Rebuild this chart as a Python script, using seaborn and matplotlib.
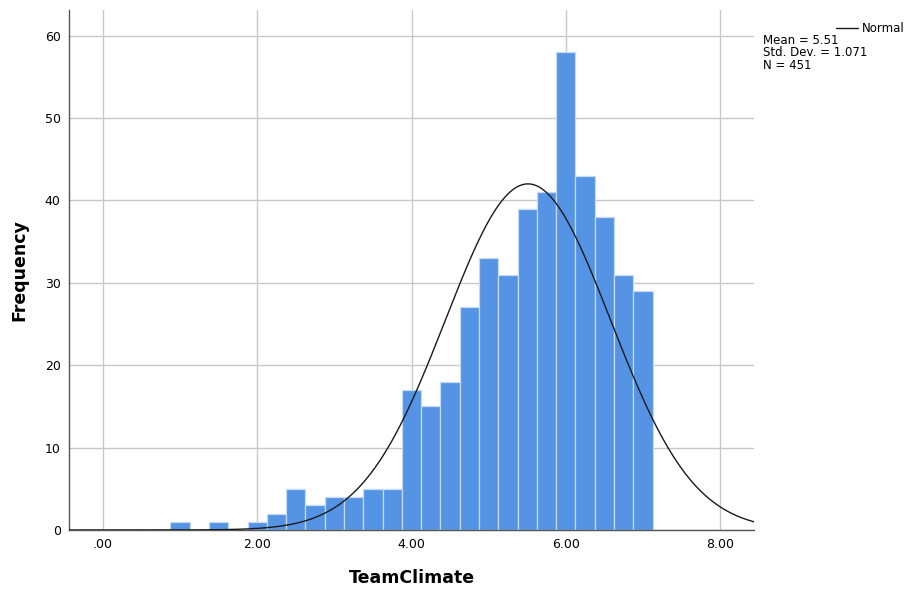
import numpy as np
import pandas as pd
import matplotlib
matplotlib.use("Agg")
import matplotlib.pyplot as plt
import seaborn as sns
from matplotlib.ticker import FuncFormatter

# bin centres (width .25) and frequencies
bin_centers = [1.00, 1.25, 1.50, 1.75, 2.00, 2.25, 2.50, 2.75, 3.00, 3.25, 3.50, 3.75,
               4.00, 4.25, 4.50, 4.75, 5.00, 5.25, 5.50, 5.75, 6.00, 6.25, 6.50, 6.75, 7.00]
frequencies = [1, 0, 1, 0, 1, 2, 5, 3, 4, 4, 5, 5,
               17, 15, 18, 27, 33, 31, 39, 41, 58, 43, 38, 31, 29]
bin_width = 0.25

# summary statistics shown in the legend
mean_val = 5.51
std_val = 1.071
n_val = 451

x_ticks = [0, 2, 4, 6, 8]
y_ticks = [0, 10, 20, 30, 40, 50, 60]

sns.set_style("white")
plt.rcParams["font.family"] = ["DejaVu Sans"]
plt.rcParams["text.color"] = "black"

df = pd.DataFrame({"TeamClimate": bin_centers, "count": frequencies})

fig = plt.figure(figsize=(9.08, 5.9), dpi=100)
ax = fig.add_axes([69 / 908, 1 - 530 / 590, (754 - 69) / 908, (530 - 10) / 590])

ax.set_axisbelow(True)
ax.grid(True, color="#c8c8c8", linewidth=1)

sns.histplot(data=df, x="TeamClimate", weights="count", binwidth=bin_width,
             binrange=(bin_centers[0] - bin_width / 2, bin_centers[-1] + bin_width / 2), ax=ax,
             color="#5594e4", alpha=1, edgecolor="#c6daf4", linewidth=0.9)

xmin, xmax = -0.44, 8.44
xs = np.linspace(xmin, xmax, 400)
curve = n_val * bin_width * np.exp(-0.5 * ((xs - mean_val) / std_val) ** 2) / (std_val * np.sqrt(2 * np.pi))
sns.lineplot(x=xs, y=curve, ax=ax, color="#1a1a1a", linewidth=1, zorder=5)

ax.set_xlim(xmin, xmax)
ax.set_ylim(0, 63.1)
ax.set_xticks(x_ticks)
ax.set_yticks(y_ticks)
ax.xaxis.set_major_formatter(FuncFormatter(lambda v, p: f"{v:.2f}".lstrip("0") if v == 0 else f"{v:.2f}"))
ax.tick_params(axis="both", length=0, labelsize=9, colors="black", pad=6)

for s in ["top", "right"]:
    ax.spines[s].set_visible(False)
for s in ["left", "bottom"]:
    ax.spines[s].set_color("#555555")
    ax.spines[s].set_linewidth(1)

ax.set_xlabel("TeamClimate", fontsize=12.5, fontweight="bold", labelpad=13, color="black")
ax.set_ylabel("Frequency", fontsize=12.5, fontweight="bold", labelpad=12, color="black")

# legend block on the right
fig.lines.append(plt.Line2D([836 / 908, 858 / 908], [1 - 28 / 590, 1 - 28 / 590],
                            transform=fig.transFigure, color="#1a1a1a", linewidth=1))
fig.text(862 / 908, 1 - 28 / 590, "Normal", fontsize=8.5, va="center", ha="left")
fig.text(763 / 908, 1 - 34 / 590, f"Mean = {mean_val:.2f}\nStd. Dev. = {std_val:.3f}\nN = {n_val}",
         fontsize=8.5, va="top", ha="left", linespacing=0.95)

plt.savefig("out.png", dpi=100)
